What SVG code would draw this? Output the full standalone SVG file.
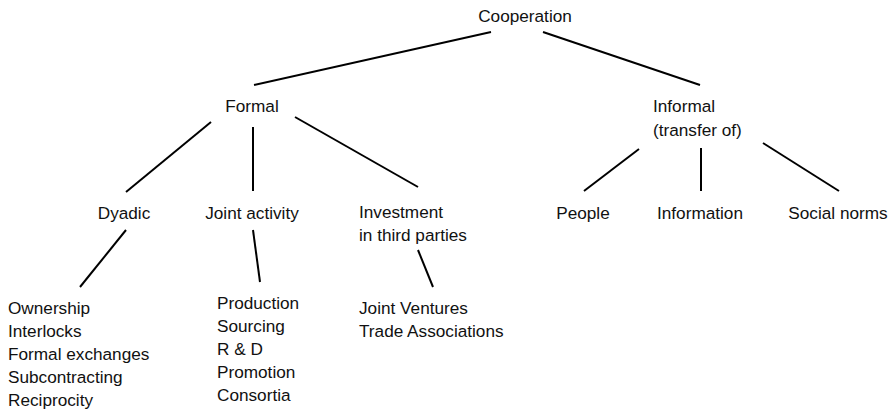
<svg xmlns="http://www.w3.org/2000/svg" width="895" height="413" viewBox="0 0 895 413">
  <style>
    .lbl { font-family: "Liberation Sans", Arial, sans-serif; font-size: 17.2px; fill: #111; }
    .mid { text-anchor: middle; }
    .edge { stroke: #000; stroke-width: 2; stroke-linecap: butt; fill: none; }
  </style>
  <rect width="895" height="413" fill="#fff"/>

  <g id="connectors">
    <line class="edge" x1="491" y1="32" x2="254" y2="85"/>
    <line class="edge" x1="543" y1="32" x2="700" y2="85"/>
    <line class="edge" x1="211" y1="122" x2="126" y2="192"/>
    <line class="edge" x1="253" y1="127" x2="253" y2="191"/>
    <line class="edge" x1="295" y1="117" x2="418" y2="187"/>
    <line class="edge" x1="639" y1="149" x2="584" y2="191"/>
    <line class="edge" x1="701" y1="148" x2="701" y2="191"/>
    <line class="edge" x1="763" y1="143" x2="839" y2="191"/>
    <line class="edge" x1="126" y1="230" x2="80" y2="287"/>
    <line class="edge" x1="253" y1="230" x2="260" y2="282"/>
    <line class="edge" x1="418" y1="250" x2="433" y2="287"/>
  </g>

  <g id="cooperation"><text class="lbl mid" x="525" y="22">Cooperation</text></g>
  <g id="formal"><text class="lbl mid" x="252" y="112">Formal</text></g>
  <g id="informal">
    <text class="lbl" x="653" y="112">Informal</text>
    <text class="lbl" x="653" y="135.5">(transfer of)</text>
  </g>
  <g id="dyadic"><text class="lbl mid" x="124" y="219">Dyadic</text></g>
  <g id="joint-activity"><text class="lbl mid" x="252" y="219">Joint activity</text></g>
  <g id="investment">
    <text class="lbl" x="359" y="217.5">Investment</text>
    <text class="lbl" x="359" y="241">in third parties</text>
  </g>
  <g id="people"><text class="lbl mid" x="583" y="219">People</text></g>
  <g id="information"><text class="lbl mid" x="700" y="219">Information</text></g>
  <g id="social-norms"><text class="lbl mid" x="838" y="219">Social norms</text></g>

  <g id="dyadic-list">
    <text class="lbl" x="8" y="314">Ownership</text>
    <text class="lbl" x="8" y="337">Interlocks</text>
    <text class="lbl" x="8" y="360">Formal exchanges</text>
    <text class="lbl" x="8" y="383">Subcontracting</text>
    <text class="lbl" x="8" y="406">Reciprocity</text>
  </g>
  <g id="joint-list">
    <text class="lbl" x="217" y="308.5">Production</text>
    <text class="lbl" x="217" y="332">Sourcing</text>
    <text class="lbl" x="217" y="355">R &amp; D</text>
    <text class="lbl" x="217" y="378">Promotion</text>
    <text class="lbl" x="217" y="401">Consortia</text>
  </g>
  <g id="investment-list">
    <text class="lbl" x="359" y="313.5">Joint Ventures</text>
    <text class="lbl" x="359" y="336.5">Trade Associations</text>
  </g>
</svg>
